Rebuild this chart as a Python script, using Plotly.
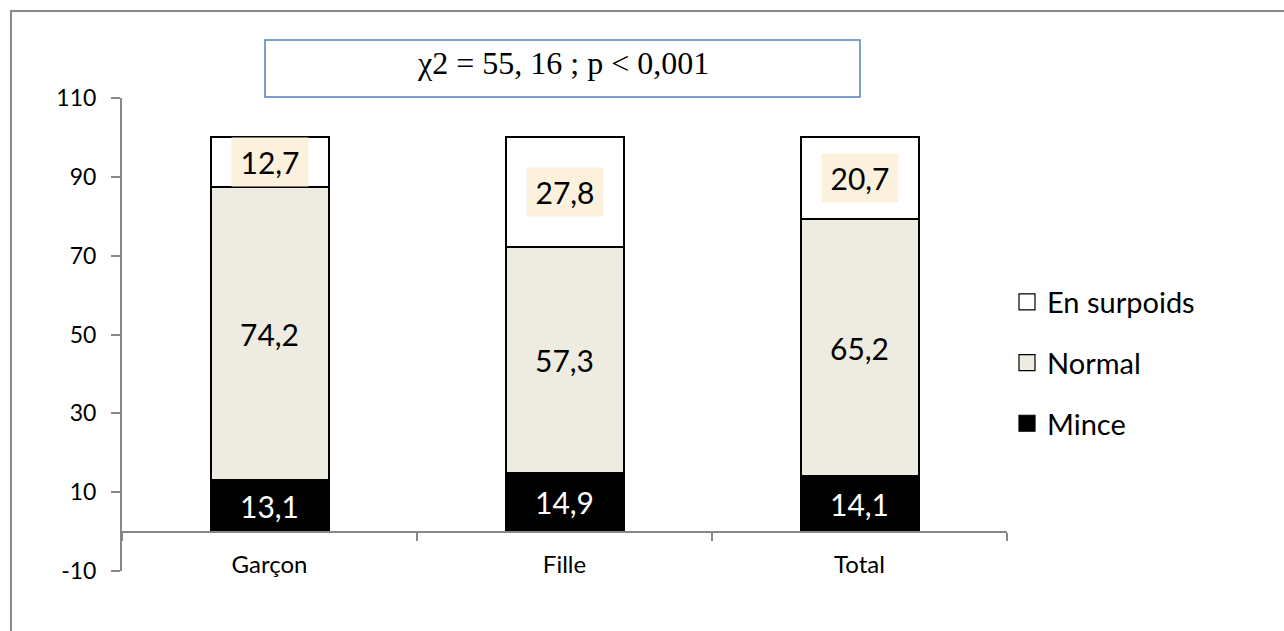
import plotly.graph_objects as go

categories = ["Garçon", "Fille", "Total"]
mince = [13.1, 14.9, 14.1]
normal = [74.2, 57.3, 65.2]
surpoids = [12.7, 27.8, 20.7]
series_names = ["Mince", "Normal", "En surpoids"]
series_colors = ["#000000", "#EEECE1", "#FFFFFF"]
y_tickvals = [-10, 10, 30, 50, 70, 90, 110]
y_ticklabels = ["-10", "10", "30", "50", "70", "90", "110"]
y_range = [-10, 110]
stat_text = "χ2 = 55, 16 ; p < 0,001"

W, H = 1284, 631
L, R, T, B = 122, 277, 98, 60
pw, ph = W - L - R, H - T - B

def px_x(p):
    return (p - L) / pw

def px_y(p):
    return (H - B - p) / ph

FONT = "Lato"
GRAY = "#878787"

fig = go.Figure()
fig.add_trace(go.Bar(
    x=categories, y=mince, name=series_names[0], showlegend=False,
    marker=dict(color=series_colors[0], line=dict(color="#000000", width=2)),
    text=[f"{v:.1f}".replace(".", ",") for v in mince],
    textposition="inside", insidetextanchor="middle",
    textfont=dict(color="white", size=30, family=FONT),
))
fig.add_trace(go.Bar(
    x=categories, y=normal, name=series_names[1], showlegend=False,
    marker=dict(color=series_colors[1], line=dict(color="#000000", width=2)),
    text=[f"{v:.1f}".replace(".", ",") for v in normal],
    textposition="inside", insidetextanchor="middle",
    textfont=dict(color="black", size=30, family=FONT),
))
fig.add_trace(go.Bar(
    x=categories, y=surpoids, name=series_names[2], showlegend=False,
    marker=dict(color=series_colors[2], line=dict(color="#000000", width=2)),
))

# legend entries (legend only, larger square symbols)
for rank, (nm, col) in enumerate(zip(reversed(series_names), reversed(series_colors))):
    fig.add_trace(go.Scatter(
        x=[None], y=[None], mode="markers", name=nm,
        legendgroup=nm, legendrank=rank + 1,
        marker=dict(symbol="square", size=16, color=col,
                    line=dict(color="#000000", width=1.2)),
    ))

for c, m, n, s in zip(categories, mince, normal, surpoids):
    fig.add_annotation(
        x=c, y=m + n + s / 2, xref="x", yref="y",
        text=f"{s:.1f}".replace(".", ","), showarrow=False,
        font=dict(size=30, color="black", family=FONT),
        bgcolor="#FCF1DC", width=74, height=46,
    )

# statistics text box
fig.add_shape(type="rect", xref="paper", yref="paper",
              x0=px_x(265), x1=px_x(860), y0=px_y(97), y1=px_y(40),
              line=dict(color="#4F81BD", width=1.5), fillcolor="white")
fig.add_annotation(xref="paper", yref="paper",
                   x=(px_x(265) + px_x(860)) / 2, y=px_y(63),
                   text=stat_text, showarrow=False,
                   font=dict(family="Liberation Serif", size=32, color="black"),
                   xanchor="center", yanchor="middle")

# outer chart border (left and top)
fig.add_shape(type="path", xref="paper", yref="paper",
              path=f"M {px_x(11)} {px_y(H+5)} L {px_x(11)} {px_y(11)} L {px_x(W+5)} {px_y(11)}",
              line=dict(color="#898989", width=2))

zero_pos = (0 - y_range[0]) / (y_range[1] - y_range[0])

fig.update_layout(
    width=W, height=H,
    margin=dict(l=L, r=R, t=T, b=B),
    barmode="stack", bargap=0.6,
    plot_bgcolor="white", paper_bgcolor="white",
    font=dict(family=FONT, color="black"),
    showlegend=True,
    legend=dict(
        x=1.0, xanchor="left", y=px_y(363), yanchor="middle",
        traceorder="grouped", tracegroupgap=20,
        font=dict(size=29, family=FONT, color="black"),
        bgcolor="rgba(0,0,0,0)", itemsizing="trace",
    ),
    xaxis=dict(
        anchor="free", position=zero_pos,
        range=[-0.5, 2.5], showline=True, linecolor=GRAY, linewidth=2,
        ticks="outside", tickson="boundaries", ticklen=8, tickcolor=GRAY, tickwidth=2,
        tickfont=dict(size=24, family=FONT, color="black"),
        ticklabelstandoff=12, showgrid=False, zeroline=False,
    ),
    yaxis=dict(
        range=y_range, tickvals=y_tickvals, ticktext=y_ticklabels,
        showline=True, linecolor=GRAY, linewidth=2,
        ticks="outside", ticklen=9, tickcolor=GRAY, tickwidth=2,
        tickfont=dict(size=23, family=FONT, color="black"),
        ticklabelstandoff=10,
        showgrid=False, zeroline=False,
    ),
)

fig.write_html("out.html")
